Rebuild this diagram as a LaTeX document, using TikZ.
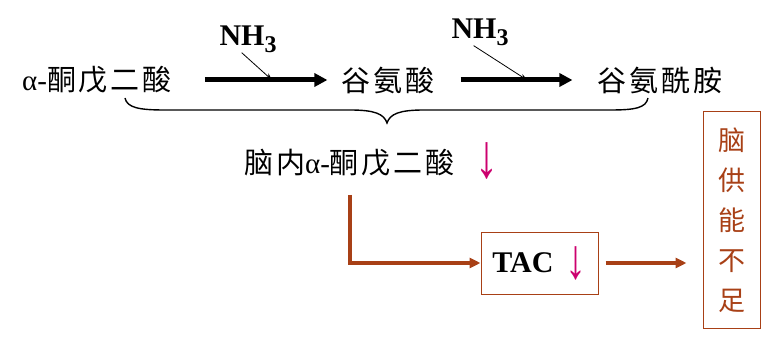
\documentclass[tikz,border=0pt]{standalone}
\usepackage{fontspec}
\usepackage{graphicx}
\setmainfont{Liberation Serif}
\newfontfamily\cjk[LetterSpace=10]{Noto Sans CJK SC}
\usetikzlibrary{positioning,arrows.meta,calc}
\definecolor{rust}{RGB}{168,64,22}
\definecolor{rose}{RGB}{204,0,110}
\newcommand{\fall}[2]{\raisebox{#2}[0pt][0pt]{\rmfamily\mdseries\color{rose}\fontsize{#1}{#1}\selectfont\scalebox{1}[1.35]{↓}}}

\begin{document}
\begin{tikzpicture}[x=1pt, y=-1pt,
  cn/.style={font=\fontsize{29}{32}\selectfont\cjk, inner sep=0pt},
  nh/.style={font=\fontsize{30}{32}\selectfont\bfseries, inner sep=0pt},
  fwd/.style={line width=5pt, -{Triangle[length=13pt,width=13pt]}},
  feed/.style={line width=0.8pt, -{Stealth[length=7pt,width=5pt]}},
  rbox/.style={draw=rust, line width=1pt, inner sep=0pt},
  rfwd/.style={draw=rust, line width=3.5pt, -{Triangle[length=11pt,width=10pt]}, rust}]
\useasboundingbox (0,0) rectangle (761,342);
% top row
\node[cn] (akg) at (97,80) {{\rmfamily α-}酮戊二酸};
\node[cn] (glu) at (388,80) {谷氨酸};
\node[cn] (gln) at (660,80) {谷氨酰胺};
\node[nh] (nh1) at (248,39) {NH\raisebox{-7pt}{\fontsize{24}{24}\selectfont 3}};
\node[nh] (nh2) at (480,32) {NH\raisebox{-7pt}{\fontsize{24}{24}\selectfont 3}};
\draw[fwd, shorten <=33pt, shorten >=14pt] (akg) -- (glu);
\draw[fwd, shorten <=26pt, shorten >=25pt] (glu) -- (gln);
\coordinate (j1) at (272,80);
\coordinate (j2) at (527,80);
\draw[feed] (nh1.-115) -- (j1);
\draw[feed] (nh2.-115) -- (j2);
% brace
\draw[line width=1.4pt] (125,98) .. controls (127,108) and (140,110) .. (165,110) -- (350,110)
  .. controls (375,110) and (384,114) .. (387,123)
  .. controls (390,114) and (399,110) .. (424,110) -- (610,110)
  .. controls (635,110) and (646,108) .. (648,98);
% lower part
\node[cn, anchor=west] (bakg) at (244,163) {脑内{\rmfamily α-}酮戊二酸\hspace{21pt}\fall{46}{-4pt}};
\node[rbox, minimum width=117pt, minimum height=62pt] (tac) at (539.5,263)
  {\fontsize{30}{34}\selectfont\bfseries TAC\hspace{12pt}\fall{42}{-6pt}};
\node[rbox, minimum width=57pt, minimum height=216pt, text=rust, align=center,
  font=\fontsize{27}{40}\selectfont\cjk] (lack) at (731.5,220) {脑\\供\\能\\不\\足};
\coordinate (bend0) at (350,195);
\draw[rfwd] (bend0) |- (tac.west);
\draw[rfwd, shorten <=7pt, shorten >=16pt] (tac.east) -- (tac.east -| lack.west);
\end{tikzpicture}
\end{document}
